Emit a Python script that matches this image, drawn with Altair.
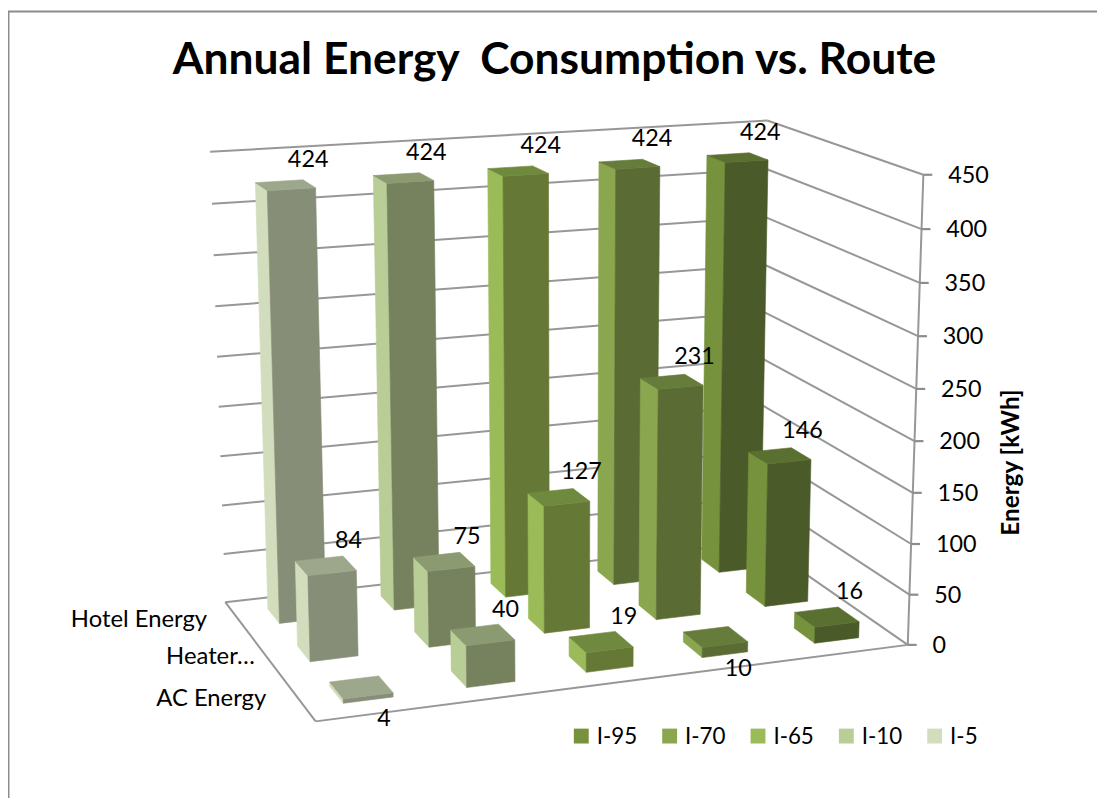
import numpy as np
import pandas as pd
import altair as alt

TITLE = "Annual Energy\u00a0 Consumption vs. Route"
AXIS_TITLE = "Energy [kWh]"
SERIES = ["I-5", "I-10", "I-65", "I-70", "I-95"]
CATEGORIES = ["AC Energy", "Heater...", "Hotel Energy"]
AC_ENERGY = [4, 40, 19, 10, 16]
HEATER_ENERGY = [84, 75, 127, 231, 146]
HOTEL_ENERGY = [424, 424, 424, 424, 424]
VALUES = [AC_ENERGY, HEATER_ENERGY, HOTEL_ENERGY]
TICKS = [0, 50, 100, 150, 200, 250, 300, 350, 400, 450]
SIDE = ["#D1DDBC", "#B9CD96", "#9BBB59", "#8AA64F", "#76923C"]
FRONT = ["#878E78", "#76815E", "#657835", "#5A6B33", "#4B5A29"]
TOP = ["#9DA78C", "#8B9A70", "#6F8A3F", "#657C3A", "#5A7030"]

FONT = "Lato"
W, H = 1097, 793
BAR = 0.4

# 3D view: (x across routes, energy, z from front to back) -> page pixels
anchors = [
    ((0, 0, 0), (316.7, 723.3)), ((1, 0, 0), (914.3, 646.7)),
    ((1, 50, 0), (915.7, 596.7)), ((1, 300, 0), (925, 336)),
    ((1, 400, 0), (928.5, 228.3)), ((1, 450, 0), (930, 173.3)),
    ((0, 0, 1), (227.3, 603.3)), ((0, 450, 1), (211, 150)),
    ((1, 450, 1), (773.3, 118.3)),
    # corners of a few columns
    ((.86, 146, .5667), (754, 452.7)), ((.86, 146, .4333), (773.3, 464)), ((.94, 146, .4333), (816.7, 459.3)),
    ((.86, 0, .4333), (770.7, 608.3)), ((.94, 0, .4333), (814, 602.3)), ((.86, 0, .5667), (751.7, 594.3)),
    ((.66, 231, .5667), (645, 378.3)), ((.66, 231, .4333), (663.3, 388.3)), ((.74, 231, .4333), (707.7, 383.3)),
    ((.66, 0, .4333), (661, 620.7)), ((.74, 0, .4333), (705.7, 615.7)), ((.66, 0, .5667), (643.3, 606.7)),
    ((.86, 424, .7667), (730, 160.7)), ((.94, 424, .7667), (774, 158.3)), ((.86, 424, .9), (711.7, 154)),
    ((.86, 0, .9), (706.7, 561.7)), ((.86, 0, .7667), (724, 572.7)),
    ((.06, 0, .1), (346.7, 705)), ((.14, 0, .1), (395.7, 699.3)),
    ((.06, 84, .5667), (297.7, 563.3)), ((.06, 84, .4333), (311, 576.7)), ((.14, 84, .4333), (359.3, 571.7)),
    ((.06, 0, .4333), (312.3, 663.3)), ((.14, 0, .4333), (360.7, 657.7)), ((.06, 0, .5667), (299.3, 650)),
    ((.06, 424, .9), (257.7, 181.7)), ((.06, 424, .7667), (269, 189)), ((.14, 424, .7667), (317.7, 185.7)),
    ((.06, 0, .9), (269.3, 610)), ((.06, 0, .7667), (281.7, 624.3)),
]
X = np.array([[a, b / 450, c, 1.0] for (a, b, c), _ in anchors])
UV = np.array([uv for _, uv in anchors])
rows = []
for (a, b, c, d), (u, v) in zip(X, UV):
    rows.append([a, b, c, d, 0, 0, 0, 0, -u * a, -u * b, -u * c, -u])
    rows.append([0, 0, 0, 0, a, b, c, d, -v * a, -v * b, -v * c, -v])
P = np.linalg.svd(np.array(rows))[2][-1]
for _ in range(40):  # refine on picture distance
    M = P.reshape(3, 4)
    Q = X @ M.T
    u, v = Q[:, 0] / Q[:, 2], Q[:, 1] / Q[:, 2]
    n = len(X)
    J = np.zeros((2 * n, 12))
    J[:n, 0:4] = X / Q[:, [2]]
    J[:n, 8:12] = -X * (u / Q[:, 2])[:, None]
    J[n:, 4:8] = X / Q[:, [2]]
    J[n:, 8:12] = -X * (v / Q[:, 2])[:, None]
    r = np.r_[UV[:, 0] - u, UV[:, 1] - v]
    P = P + np.linalg.lstsq(J, r, rcond=1e-10)[0]
P = P.reshape(3, 4)


def proj(x, e, z):
    q = P @ np.array([x, e / 450, z, 1.0])
    return q[0] / q[2], q[1] / q[2]


polys, lines, texts = [], [], []


def poly(points, color):
    pid = polys[-1]["id"] + 1 if polys else 0
    for i, p in enumerate(points):
        u, v = proj(*p)
        polys.append(dict(id=pid, seq=i, px=u, py=v, color=color))


def line(a, b, key):
    for i, p in enumerate((a, b)):
        u, v = proj(*p)
        lines.append(dict(id=key, seq=i, px=u, py=v))


for t in TICKS:
    line((0, t, 1), (1, t, 1), f"b{t}")
    line((1, t, 1), (1, t, 0), f"r{t}")
line((0, 0, 0), (0, 0, 1), "left")
line((0, 0, 0), (1, 0, 0), "front")
line((1, 0, 0), (1, 450, 0), "axis")

cell_x, cell_z = 1 / len(SERIES), 1 / len(CATEGORIES)
for c in range(len(CATEGORIES) - 1, -1, -1):
    for s in range(len(SERIES) - 1, -1, -1):
        v = VALUES[c][s]
        x0 = (s + 0.5 - BAR / 2) * cell_x
        x1 = (s + 0.5 + BAR / 2) * cell_x
        z0 = (c + 0.5 - BAR / 2) * cell_z
        z1 = (c + 0.5 + BAR / 2) * cell_z
        poly([(x0, 0, z0), (x0, 0, z1), (x0, v, z1), (x0, v, z0)], SIDE[s])
        poly([(x0, 0, z0), (x1, 0, z0), (x1, v, z0), (x0, v, z0)], FRONT[s])
        poly([(x0, v, z0), (x1, v, z0), (x1, v, z1), (x0, v, z1)], TOP[s])
        u, w = proj((x0 + x1) / 2, v, (z0 + z1) / 2)
        below = v <= 10
        texts.append(dict(px=u + 23, py=w + (32 if below else -25), t=str(v)))

axis_labels, ticks = [], []
for t in TICKS:
    u, v = proj(1, t, 0)
    axis_labels.append(dict(px=u + 25, py=v + 1, t=str(t)))
    ticks.append(dict(id=t, seq=0, px=u, py=v))
    ticks.append(dict(id=t, seq=1, px=u + 9, py=v))

cat_off = [-33, -13, -32]
cat_dy = [0, -1, 0]
cat_labels = []
for c, name in enumerate(CATEGORIES):
    u, v = proj(0, 0, (c + 0.5) * cell_z)
    cat_labels.append(dict(px=u + cat_off[c], py=v + cat_dy[c], t=name.replace("...", "\u2026")))

legend_sq, legend_tx = [], []
for i, name in enumerate(reversed(SERIES)):
    legend_sq.append(dict(px=585.5 + i * 89, py=738.5, color=list(reversed(SIDE))[i]))
    legend_tx.append(dict(px=601 + i * 89, py=739, t=name))

frame = [dict(id="t", seq=0, px=8, py=8.5), dict(id="t", seq=1, px=1105, py=8.5),
         dict(id="l", seq=0, px=8.5, py=8), dict(id="l", seq=1, px=8.5, py=801)]

xe = alt.X("px:Q", axis=None, scale=alt.Scale(domain=[8, 8 + W], range=[0, W], nice=False, zero=False))
ye = alt.Y("py:Q", axis=None, scale=alt.Scale(domain=[8, 8 + H], range=[0, H], nice=False, zero=False))


def text_layer(rows_, **kw):
    return alt.Chart(pd.DataFrame(rows_)).mark_text(font=FONT, color="black", **kw).encode(x=xe, y=ye, text="t:N")


layers = [
    alt.Chart(pd.DataFrame(frame)).mark_line(color="#8C8C8C", strokeWidth=2).encode(x=xe, y=ye, detail="id:N", order="seq:Q"),
    alt.Chart(pd.DataFrame(lines)).mark_line(color="#979797", strokeWidth=2).encode(x=xe, y=ye, detail="id:N", order="seq:Q"),
    alt.Chart(pd.DataFrame(ticks)).mark_line(color="#8C8C8C", strokeWidth=2.2).encode(x=xe, y=ye, detail="id:N", order="seq:Q"),
    alt.Chart(pd.DataFrame(polys)).mark_line(interpolate="linear-closed", strokeWidth=0.6).encode(
        x=xe, y=ye, detail="id:N", order="seq:Q",
        stroke=alt.Stroke("color:N", scale=None), fill=alt.Fill("color:N", scale=None)),
    alt.Chart(pd.DataFrame(legend_sq)).mark_square(size=225, opacity=1).encode(x=xe, y=ye, fill=alt.Fill("color:N", scale=None)),
    text_layer(texts, fontSize=23.5, align="center", baseline="middle"),
    text_layer(axis_labels, fontSize=23.5, align="left", baseline="middle"),
    text_layer(cat_labels, fontSize=24, align="right", baseline="middle"),
    text_layer(legend_tx, fontSize=22.5, align="left", baseline="middle"),
    text_layer([dict(px=174, py=72, t=TITLE)], fontSize=44.7, fontWeight="bold", align="left", baseline="alphabetic"),
    text_layer([dict(px=1019, py=463, t=AXIS_TITLE)], fontSize=24.5, fontWeight="bold", align="center", baseline="middle", angle=270),
]

chart = alt.layer(*layers).properties(
    width=W, height=H, padding=0, autosize=alt.AutoSizeParams(type="none"), background="white"
).configure_view(stroke=None)

chart.save("out.html", embed_options={"renderer": "svg", "actions": False})
